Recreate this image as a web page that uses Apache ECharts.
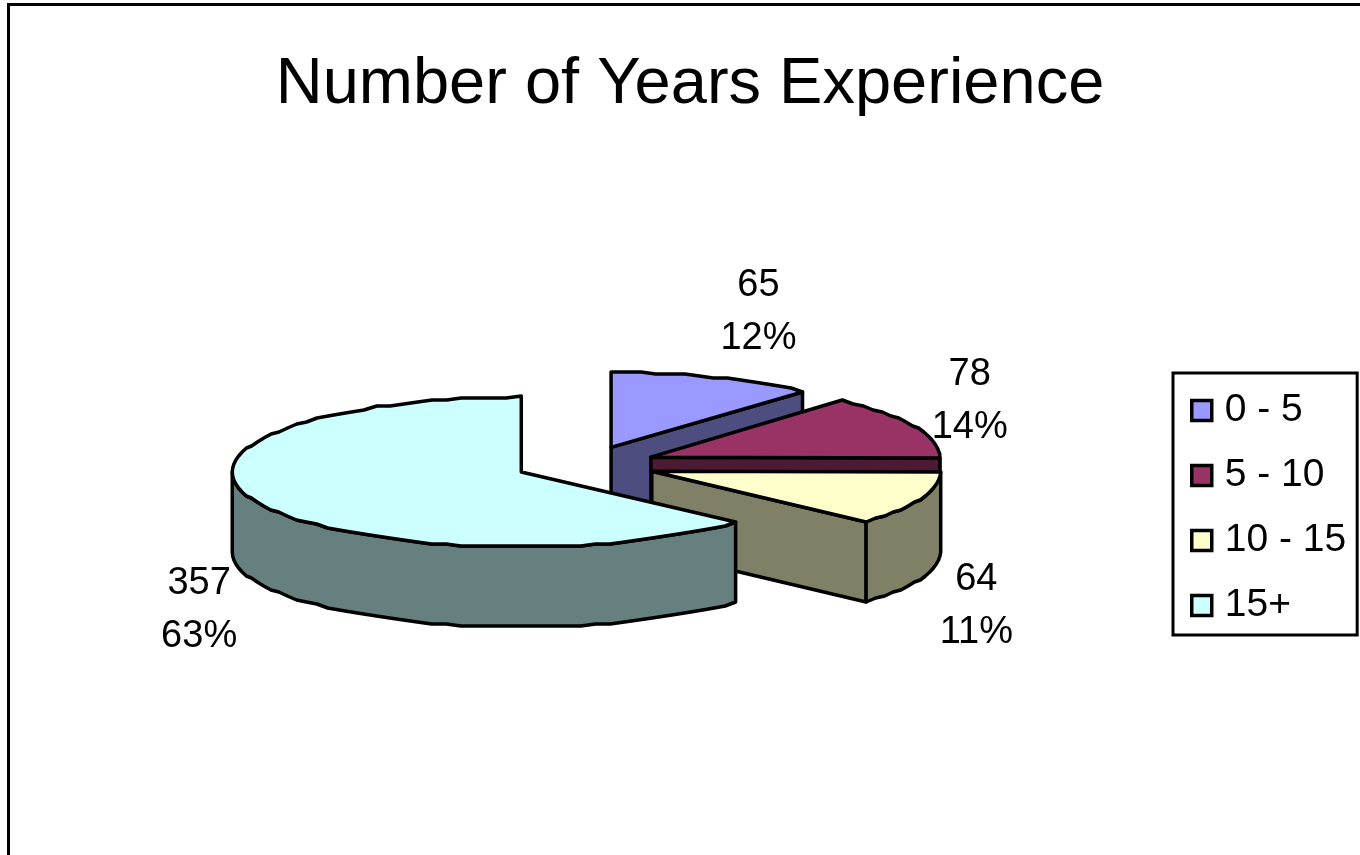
<!DOCTYPE html>
<html>
<head>
<meta charset="utf-8">
<style>html,body{margin:0;padding:0;background:#fff}#c{width:1360px;height:855px}</style>
<script src="https://cdn.jsdelivr.net/npm/echarts@6/dist/echarts.min.js"></script>
</head>
<body>
<div id="c"></div>
<script>
const categories = ['0 - 5', '5 - 10', '10 - 15', '15+'];
const values = [65, 78, 64, 357];
const titleText = 'Number of Years Experience';
const topColors = ['#9999FF', '#993366', '#FFFFCC', '#CCFFFF'];
const wallColors = ['#4D4D80', '#4D1A33', '#808066', '#668080'];
const labelOffsets = [[45, -66], [54, -27], [56, 106], [-58, 108]];

const FONT = '"Liberation Sans", Arial, sans-serif';
const pie = { cx: 586, cy: 464.5, rx: 289, ry: 75, depth: 80, explode: 0.245, step: 3, snap: 2 };
const total = values.reduce((a, b) => a + b, 0);

function rimPoint(o, deg) {
  const a = deg * Math.PI / 180;
  const y = o[1] - Math.cos(a) * pie.ry;
  return [o[0] + Math.sin(a) * pie.rx, Math.round(y / pie.snap) * pie.snap];
}
function arc(o, from, to) {
  const pts = [];
  const n = Math.max(1, Math.ceil((to - from) / pie.step));
  for (let i = 0; i <= n; i++) pts.push(rimPoint(o, from + (to - from) * i / n));
  return pts;
}
function down(pts) { return pts.map(p => [p[0], p[1] + pie.depth]); }
function poly(points, fill) {
  return {
    type: 'polygon',
    shape: { points },
    style: { fill, stroke: '#000', lineWidth: 3.5, lineJoin: 'round' }
  };
}
function renderSlice(params, api) {
  const i = params.seriesIndex;
  const v = api.value(0);
  let before = 0;
  for (let k = 0; k < i; k++) before += values[k];
  const start = before / total * 360, end = (before + v) / total * 360, mid = (start + end) / 2;
  const mr = mid * Math.PI / 180;
  const apex = [
    pie.cx + Math.sin(mr) * pie.rx * pie.explode,
    pie.cy - Math.cos(mr) * pie.ry * pie.explode
  ];
  const children = [];
  const rim = arc(apex, start, end);
  // back-to-front: cut faces, outer wall, then top
  if (Math.sin(end * Math.PI / 180) > 0.01) {
    const p = rimPoint(apex, end);
    children.push(poly([apex, p, [p[0], p[1] + pie.depth], [apex[0], apex[1] + pie.depth]], wallColors[i]));
  }
  const wFrom = Math.max(start, 90), wTo = Math.min(end, 270);
  if (wTo > wFrom) {
    const w = arc(apex, wFrom, wTo);
    children.push(poly(w.concat(down(w).reverse()), wallColors[i]));
  }
  children.push(poly([apex].concat(rim), topColors[i]));
  const rimMid = rimPoint(apex, mid);
  children.push({
    type: 'text',
    style: {
      text: v + '\n' + Math.round(v / total * 100) + '%',
      x: rimMid[0] + labelOffsets[i][0],
      y: rimMid[1] + labelOffsets[i][1],
      font: '38px ' + FONT,
      lineHeight: 53,
      align: 'center',
      verticalAlign: 'middle',
      fill: '#000'
    }
  });
  return { type: 'group', children };
}

const chart = echarts.init(document.getElementById('c'), null, { renderer: 'canvas' });
chart.setOption({
  animation: false,
  backgroundColor: '#fff',
  title: {
    text: titleText, left: 685, top: 48, textAlign: 'center',
    textStyle: { fontFamily: FONT, fontSize: 65, fontWeight: 'normal', color: '#000' }
  },
  legend: {
    left: 1173, top: 373, orient: 'vertical',
    padding: [16, 11, 8, 17],
    itemWidth: 20, itemHeight: 20, itemGap: 22,
    backgroundColor: '#fff', borderColor: '#000', borderWidth: 3,
    textStyle: { fontFamily: FONT, fontSize: 39, color: '#000', lineHeight: 43, padding: [0, 0, 0, 8] },
    data: categories.map((name, i) => ({
      name, icon: 'rect',
      itemStyle: { color: topColors[i], borderColor: '#000', borderWidth: 3.5 }
    }))
  },
  graphic: [{
    type: 'polyline', silent: true,
    shape: { points: [[8.5, 860], [8.5, 4.5], [1365, 4.5]] },
    style: { stroke: '#000', lineWidth: 3, fill: null }
  }],
  series: categories.map((name, i) => ({
    type: 'custom', name, coordinateSystem: 'none', z: 2 + i,
    itemStyle: { color: topColors[i] },
    data: [[values[i]]],
    renderItem: renderSlice
  }))
});
</script>
</body>
</html>
